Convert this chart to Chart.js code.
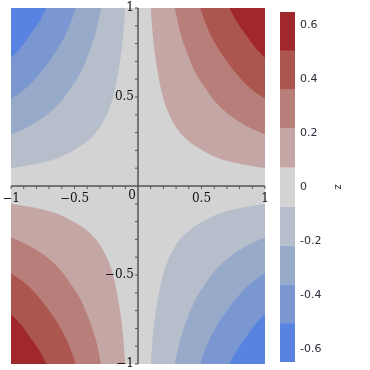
<!DOCTYPE html>
<html>
<head>
<meta charset="utf-8">
<script src="https://cdn.jsdelivr.net/npm/chart.js@4.4.0/dist/chart.umd.min.js"></script>
<style>
  html, body { margin: 0; padding: 0; background: #ffffff; }
  #wrap { width: 370px; height: 370px; }
</style>
</head>
<body>
<div id="wrap"><canvas id="contour" width="370" height="370"></canvas></div>
<script>
const curve1 = [[0.10, 1], [0.12, 0.82], [0.15, 0.66], [0.20, 0.49], [0.26, 0.38], [0.33, 0.30],
                [0.42, 0.24], [0.51, 0.20], [0.62, 0.16], [0.76, 0.13], [0.88, 0.114], [1, 0.10]];
const curve2 = [[0.29, 1], [0.33, 0.87], [0.38, 0.76], [0.45, 0.64], [0.53, 0.55], [0.60, 0.48],
                [0.70, 0.41], [0.80, 0.36], [0.90, 0.32], [1, 0.29]];
const curve3 = [[0.49, 1], [0.54, 0.90], [0.60, 0.81], [0.70, 0.70], [0.80, 0.61], [0.90, 0.54], [1, 0.49]];
const curve4 = [[0.72, 1], [0.78, 0.92], [0.85, 0.85], [0.92, 0.78], [1, 0.72]];

// band colours, lowest level first
const bandColors = ["#5883e0", "#7a97d1", "#98aac9", "#b7becb", "#d3d3d3",
                    "#c4a6a4", "#b87e79", "#ac5650", "#a0282a"];
const bandEdges = [-0.648, -0.504, -0.36, -0.216, -0.072, 0.072, 0.216, 0.36, 0.504, 0.648];
const barTicks = [0.6, 0.4, 0.2, 0, -0.2, -0.4, -0.6];

const axisTicks = [-1, -0.5, 0.5, 1];
const axisLabels = ["\u22121", "\u22120.5", "0.5", "1"];
const minorTicks = [-0.9, -0.8, -0.7, -0.6, -0.4, -0.3, -0.2, -0.1, 0.1, 0.2, 0.3, 0.4, 0.6, 0.7, 0.8, 0.9];

const curves = [curve1, curve2, curve3, curve4];

function quadrant(curve, sx, sy) {
    const pts = curve.map(p => ({ x: sx * p[0], y: sy * p[1] }));
    return pts.sort((a, b) => a.x - b.x);
}

const datasets = [];
[[1, 1], [-1, 1], [-1, -1], [1, -1]].forEach(([sx, sy]) => {
    const positive = sx * sy > 0;
    curves.forEach((c, i) => {
        datasets.push({
            data: quadrant(c, sx, sy),
            showLine: true,
            pointRadius: 0,
            borderWidth: 0,
            borderColor: "rgba(0,0,0,0)",
            cubicInterpolationMode: "monotone",
            backgroundColor: positive ? bandColors[5 + i] : bandColors[3 - i],
            fill: sy > 0 ? "end" : "start",
            order: 10 - i
        });
    });
});

const backdrop = {
    id: "backdrop",
    beforeDatasetsDraw(chart) {
        const a = chart.chartArea, ctx = chart.ctx;
        ctx.save();
        ctx.fillStyle = bandColors[4];
        ctx.fillRect(a.left, a.top, a.right - a.left, a.bottom - a.top);
        ctx.restore();
    }
};

const axes = {
    id: "axes",
    afterDatasetsDraw(chart) {
        const ctx = chart.ctx, sx = chart.scales.x, sy = chart.scales.y;
        const x0 = sx.getPixelForValue(0), y0 = sy.getPixelForValue(0);
        ctx.save();
        ctx.strokeStyle = "#555555";
        ctx.lineWidth = 1.5;
        ctx.beginPath();
        ctx.moveTo(sx.left, y0); ctx.lineTo(sx.right, y0);
        ctx.moveTo(x0, sy.top); ctx.lineTo(x0, sy.bottom);
        ctx.stroke();
        ctx.lineWidth = 1;
        ctx.beginPath();
        minorTicks.concat(axisTicks).forEach(v => {
            const px = sx.getPixelForValue(v), py = sy.getPixelForValue(v);
            ctx.moveTo(px, y0); ctx.lineTo(px, y0 + 3);
            ctx.moveTo(x0, py); ctx.lineTo(x0 - 3, py);
        });
        ctx.stroke();
        ctx.fillStyle = "#111111";
        ctx.font = "12px 'DejaVu Serif'";
        ctx.textBaseline = "middle";
        ctx.textAlign = "center";
        axisTicks.forEach((v, i) => {
            ctx.fillText(axisLabels[i], sx.getPixelForValue(v), y0 + 13);
        });
        ctx.textAlign = "right";
        axisTicks.forEach((v, i) => {
            ctx.fillText(axisLabels[i], x0 - 4, sy.getPixelForValue(v));
        });
        ctx.fillText("0", x0 - 2, y0 + 10);
        ctx.restore();
    }
};

const colorbar = {
    id: "colorbar",
    afterDraw(chart) {
        const ctx = chart.ctx, cb = chart.scales.cb;
        ctx.save();
        bandColors.forEach((col, i) => {
            const top = cb.getPixelForValue(bandEdges[i + 1]);
            const bot = cb.getPixelForValue(bandEdges[i]);
            ctx.fillStyle = col;
            ctx.fillRect(280, top, 15, bot - top);
        });
        ctx.fillStyle = "#2b2b3a";
        ctx.font = "11px 'DejaVu Sans'";
        ctx.textAlign = "left";
        ctx.textBaseline = "middle";
        barTicks.forEach(v => {
            const t = v === 0 ? "0" : (v < 0 ? "-" : "") + Math.abs(v).toFixed(1);
            ctx.fillText(t, 300, cb.getPixelForValue(v));
        });
        ctx.translate(338, cb.getPixelForValue(0));
        ctx.rotate(-Math.PI / 2);
        ctx.textAlign = "center";
        ctx.font = "10px 'DejaVu Sans'";
        ctx.fillText("z", 0, 0);
        ctx.restore();
    }
};

new Chart(document.getElementById("contour"), {
    type: "scatter",
    data: { datasets },
    options: {
        responsive: false,
        animation: false,
        devicePixelRatio: 1,
        layout: { padding: { left: 11, top: 8, right: 105, bottom: 6 } },
        plugins: { legend: { display: false }, tooltip: { enabled: false } },
        scales: {
            x: { type: "linear", min: -1, max: 1, display: false },
            y: { type: "linear", min: -1, max: 1, display: false },
            cb: { type: "linear", axis: "y", min: -0.6554, max: 0.6628, display: false }
        }
    },
    plugins: [backdrop, axes, colorbar]
});
</script>
</body>
</html>
